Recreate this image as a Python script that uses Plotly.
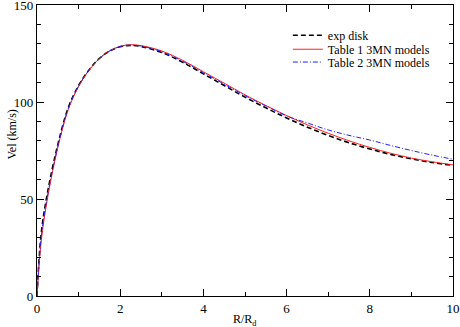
import plotly.graph_objects as go

# radius in units of disk scale length
r_rd = [0, 0.1, 0.25, 0.5, 0.75, 1.0, 1.25, 1.5, 1.75, 2.0, 2.25, 2.5, 3.0, 3.5,
        4.0, 4.5, 5.0, 5.5, 6.0, 6.5, 7.0, 7.5, 8.0, 8.5, 9.0, 9.5, 10.0]

# rotation velocities (km/s)
vel_exp = [0, 32, 53, 78, 97, 108.5, 116.5, 122.5, 126.3, 128.5, 129.2, 128.6, 125.5, 120.5,
           114.5, 108.5, 102.5, 97.0, 91.8, 87.0, 82.8, 79.0, 75.8, 73.0, 70.7, 68.8, 67.3]
vel_tab1 = [0, 28, 50, 76.5, 96, 108, 116.3, 122.4, 126.4, 128.7, 129.5, 129.1, 126.3, 121.5,
            115.6, 109.7, 103.7, 98.2, 93.0, 88.2, 83.9, 80.0, 76.6, 73.6, 71.1, 69.2, 67.6]
vel_tab2 = [0, 30, 51.5, 77, 96.5, 108.3, 116.4, 122.4, 126.3, 128.6, 129.3, 128.8, 125.9, 121.0,
            115.1, 109.2, 103.3, 98.0, 92.8, 89.2, 85.6, 82.8, 80.4, 77.6, 75.0, 72.6, 70.5]

x_ticks = [0, 2, 4, 6, 8, 10]
y_ticks = [0, 50, 100, 150]

FONT = "Liberation Serif, Times New Roman, serif"

fig = go.Figure()
fig.add_trace(go.Scatter(x=r_rd, y=vel_exp, mode="lines", name="exp disk", legend="legend",
                         line=dict(color="black", width=1.6, dash="5px,3px", shape="spline")))
fig.add_trace(go.Scatter(x=r_rd, y=vel_tab1, mode="lines", name="Table 1 3MN models", legend="legend2",
                         line=dict(color="#ff2020", width=1, shape="spline")))
fig.add_trace(go.Scatter(x=r_rd, y=vel_tab2, mode="lines", name="Table 2 3MN models", legend="legend3",
                         line=dict(color="#2020ff", width=1, dash="5px,2px,1px,2px", shape="spline")))

axis_common = dict(
    showline=True, linecolor="black", linewidth=1.2, mirror="allticks",
    ticks="inside", ticklen=7, tickcolor="black", tickwidth=1, showgrid=False, zeroline=False,
    tickfont=dict(family=FONT, size=13, color="black"), automargin=False, tickmode="array",
    ticklabeloverflow="allow",
)

fig.update_xaxes(range=[0, 10], tickvals=x_ticks, ticktext=[str(v) for v in x_ticks],
                 minor=dict(ticks="inside", ticklen=4, dtick=1, tickcolor="black"),
                 ticklabelstandoff=0, **axis_common)
fig.update_yaxes(range=[0, 150], tickvals=y_ticks, ticktext=[str(v) for v in y_ticks],
                 minor=dict(ticks="inside", ticklen=4, dtick=10, tickcolor="black"),
                 **axis_common)

# axis titles
fig.add_annotation(text="R/R<sub>d</sub>", xref="paper", yref="paper", x=0.5, y=-0.048,
                   xanchor="center", yanchor="top", showarrow=False,
                   font=dict(family=FONT, size=12, color="black"))
fig.add_annotation(text="Vel (km/s)", xref="paper", yref="paper", x=-0.06, y=0.555,
                   xanchor="center", yanchor="middle", textangle=-90, showarrow=False,
                   font=dict(family=FONT, size=12, color="black"))

leg = dict(x=0.603, xanchor="left", yanchor="middle", bgcolor="rgba(0,0,0,0)",
           font=dict(family=FONT, size=12, color="black"), itemwidth=30)
fig.update_layout(
    width=460, height=327,
    margin=dict(l=37, r=7, t=5, b=31),
    paper_bgcolor="white", plot_bgcolor="white",
    font=dict(family=FONT, size=12, color="black"),
    legend=dict(y=0.896, **leg),
    legend2=dict(y=0.848, **leg),
    legend3=dict(y=0.804, **leg),
    showlegend=True,
)

fig.write_html("out.html", config={"displayModeBar": False},
               post_script="document.body.style.margin='0';document.body.style.padding='0';")
